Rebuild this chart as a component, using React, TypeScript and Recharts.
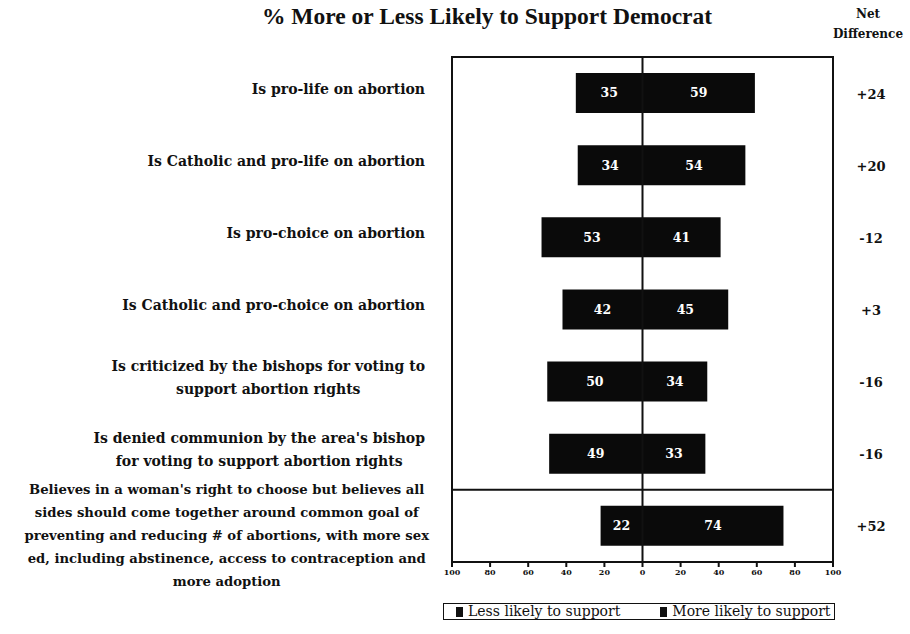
import React from "react";
import {
	Bar,
	BarChart,
	LabelList,
	Legend,
	ReferenceArea,
	ReferenceLine,
	XAxis,
	YAxis,
} from "recharts";

const categories = [
	"Is pro-life on abortion",
	"Is Catholic and pro-life on abortion",
	"Is pro-choice on abortion",
	"Is Catholic and pro-choice on abortion",
	"Is criticized by the bishops for voting to\nsupport abortion rights",
	"Is denied communion by the area's bishop\nfor voting to support abortion rights",
	"Believes in a woman's right to choose but believes all\nsides should come together around common goal of\npreventing and reducing # of abortions, with more sex\ned, including abstinence, access to contraception and\nmore adoption",
];
const lessLikely = [35, 34, 53, 42, 50, 49, 22];
const moreLikely = [59, 54, 41, 45, 34, 33, 74];
const netDifference = ["+24", "+20", "-12", "+3", "-16", "-16", "+52"];
const xTicks = [-100, -80, -60, -40, -20, 0, 20, 40, 60, 80, 100];

const SERIF = '"DejaVu Serif", serif';

const chartData = categories.map((label, i) => ({
	label,
	less: -lessLikely[i],
	more: moreLikely[i],
}));

let measureCtx: CanvasRenderingContext2D | null = null;
function textWidth(text: string, font: string) {
	if (!measureCtx) measureCtx = document.createElement("canvas").getContext("2d");
	if (!measureCtx) return text.length * 8;
	measureCtx.font = font;
	return measureCtx.measureText(text).width;
}

function CategoryTick(props: any) {
	const { x, y, payload } = props;
	const lines: string[] = String(payload.value).split("\n");
	const long = lines.length > 2;
	const fontSize = long ? 13.2 : 14;
	const font = `bold ${fontSize}px ${SERIF}`;
	const maxW = Math.max(...lines.map((l) => textWidth(l, font)));
	const right = x - (long ? 15 : 19);
	const cx = right - maxW / 2;
	const lineH = 23;
	// the long wrapped label sits a little lower than its row, as in the source
	const shift = long ? 9 : -4;
	const startY = y - ((lines.length - 1) * lineH) / 2 + shift;
	return (
		<g>
			{lines.map((line, i) => (
				<text
					key={i}
					x={cx}
					y={startY + i * lineH}
					dy="0.35em"
					textAnchor="middle"
					fontFamily={SERIF}
					fontWeight="bold"
					fontSize={fontSize}
					fill="#111"
				>
					{line}
				</text>
			))}
		</g>
	);
}

function NetTick(props: any) {
	const { y, index } = props;
	return (
		<text
			x={871}
			y={y + 1}
			dy="0.35em"
			textAnchor="middle"
			fontFamily={SERIF}
			fontWeight="bold"
			fontSize={13}
			fill="#111"
		>
			{netDifference[index]}
		</text>
	);
}

function LegendBox() {
	const item = (text: string) => (
		<span style={{ display: "inline-flex", alignItems: "center", gap: 5 }}>
			<span
				style={{
					display: "inline-block",
					width: 7,
					height: 10,
					background: "#111",
				}}
			/>
			{text}
		</span>
	);
	return (
		<div
			style={{
				border: "1.5px solid #111",
				height: 15,
				display: "flex",
				alignItems: "center",
				gap: 40,
				paddingLeft: 12,
				fontFamily: SERIF,
				fontSize: 14,
				color: "#111",
				lineHeight: "15px",
				whiteSpace: "nowrap",
			}}
		>
			{item("Less likely to support")}
			{item("More likely to support")}
		</div>
	);
}

export default function App() {
	return (
		<div
			style={{
				position: "absolute",
				left: 0,
				top: 0,
				width: 910,
				height: 634,
				background: "#fff",
			}}
		>
			<div
				style={{
					position: "absolute",
					left: 487,
					top: 5,
					transform: "translateX(-50%)",
					whiteSpace: "nowrap",
					fontFamily: '"Liberation Serif", serif',
					fontWeight: "bold",
					fontSize: 23.5,
					lineHeight: "23px",
					color: "#111",
				}}
			>
				% More or Less Likely to Support Democrat
			</div>
			<div
				style={{
					position: "absolute",
					left: 868,
					top: 4,
					transform: "translateX(-50%)",
					textAlign: "center",
					fontFamily: SERIF,
					fontWeight: "bold",
					fontSize: 12,
					lineHeight: "20px",
					color: "#111",
				}}
			>
				Net
				<br />
				Difference
			</div>
			<BarChart
				width={910}
				height={634}
				data={chartData}
				layout="vertical"
				stackOffset="sign"
				barSize={40}
				margin={{ top: 57, right: 0, left: 0, bottom: 24 }}
				style={{ position: "absolute", left: 0, top: 0 }}
			>
				<XAxis
					type="number"
					domain={[-100, 100]}
					ticks={xTicks}
					tickFormatter={(v: number) => String(Math.abs(v))}
					axisLine={{ stroke: "#111", strokeWidth: 2 }}
					tickLine={{ stroke: "#111", strokeWidth: 2 }}
					tickSize={5}
					height={30}
					tick={{
						fill: "#111",
						fontSize: 8,
						fontWeight: "bold",
						fontFamily: SERIF,
					}}
				/>
				<YAxis
					type="category"
					dataKey="label"
					width={452}
					axisLine={false}
					tickLine={false}
					tick={<CategoryTick />}
					interval={0}
				/>
				<YAxis
					yAxisId="net"
					orientation="right"
					type="category"
					dataKey="label"
					width={77}
					axisLine={false}
					tickLine={false}
					tick={<NetTick />}
					interval={0}
				/>
				<ReferenceArea
					x1={-100}
					x2={100}
					fill="none"
					stroke="#111"
					strokeWidth={2}
				/>
				<ReferenceArea
					x1={-100}
					x2={100}
					y1={categories[6]}
					y2={categories[6]}
					fill="none"
					stroke="#111"
					strokeWidth={2}
				/>
				<ReferenceLine x={0} stroke="#111" strokeWidth={2} />
				<Legend
					content={<LegendBox />}
					wrapperStyle={{
						position: "absolute",
						left: 443,
						top: 603,
						width: 392,
						height: 18,
					}}
				/>
				<Bar
					dataKey="less"
					name="Less likely to support"
					stackId="a"
					fill="#0a0a0a"
					isAnimationActive={false}
				>
					<LabelList
						dataKey="less"
						position="center"
						formatter={(v: any) => Math.abs(Number(v))}
						fill="#fff"
						fontSize={12.5}
						fontWeight="bold"
						fontFamily={SERIF}
					/>
				</Bar>
				<Bar
					dataKey="more"
					name="More likely to support"
					stackId="a"
					fill="#0a0a0a"
					isAnimationActive={false}
				>
					<LabelList
						dataKey="more"
						position="center"
						formatter={(v: any) => Math.abs(Number(v))}
						fill="#fff"
						fontSize={12.5}
						fontWeight="bold"
						fontFamily={SERIF}
					/>
				</Bar>
			</BarChart>
		</div>
	);
}
